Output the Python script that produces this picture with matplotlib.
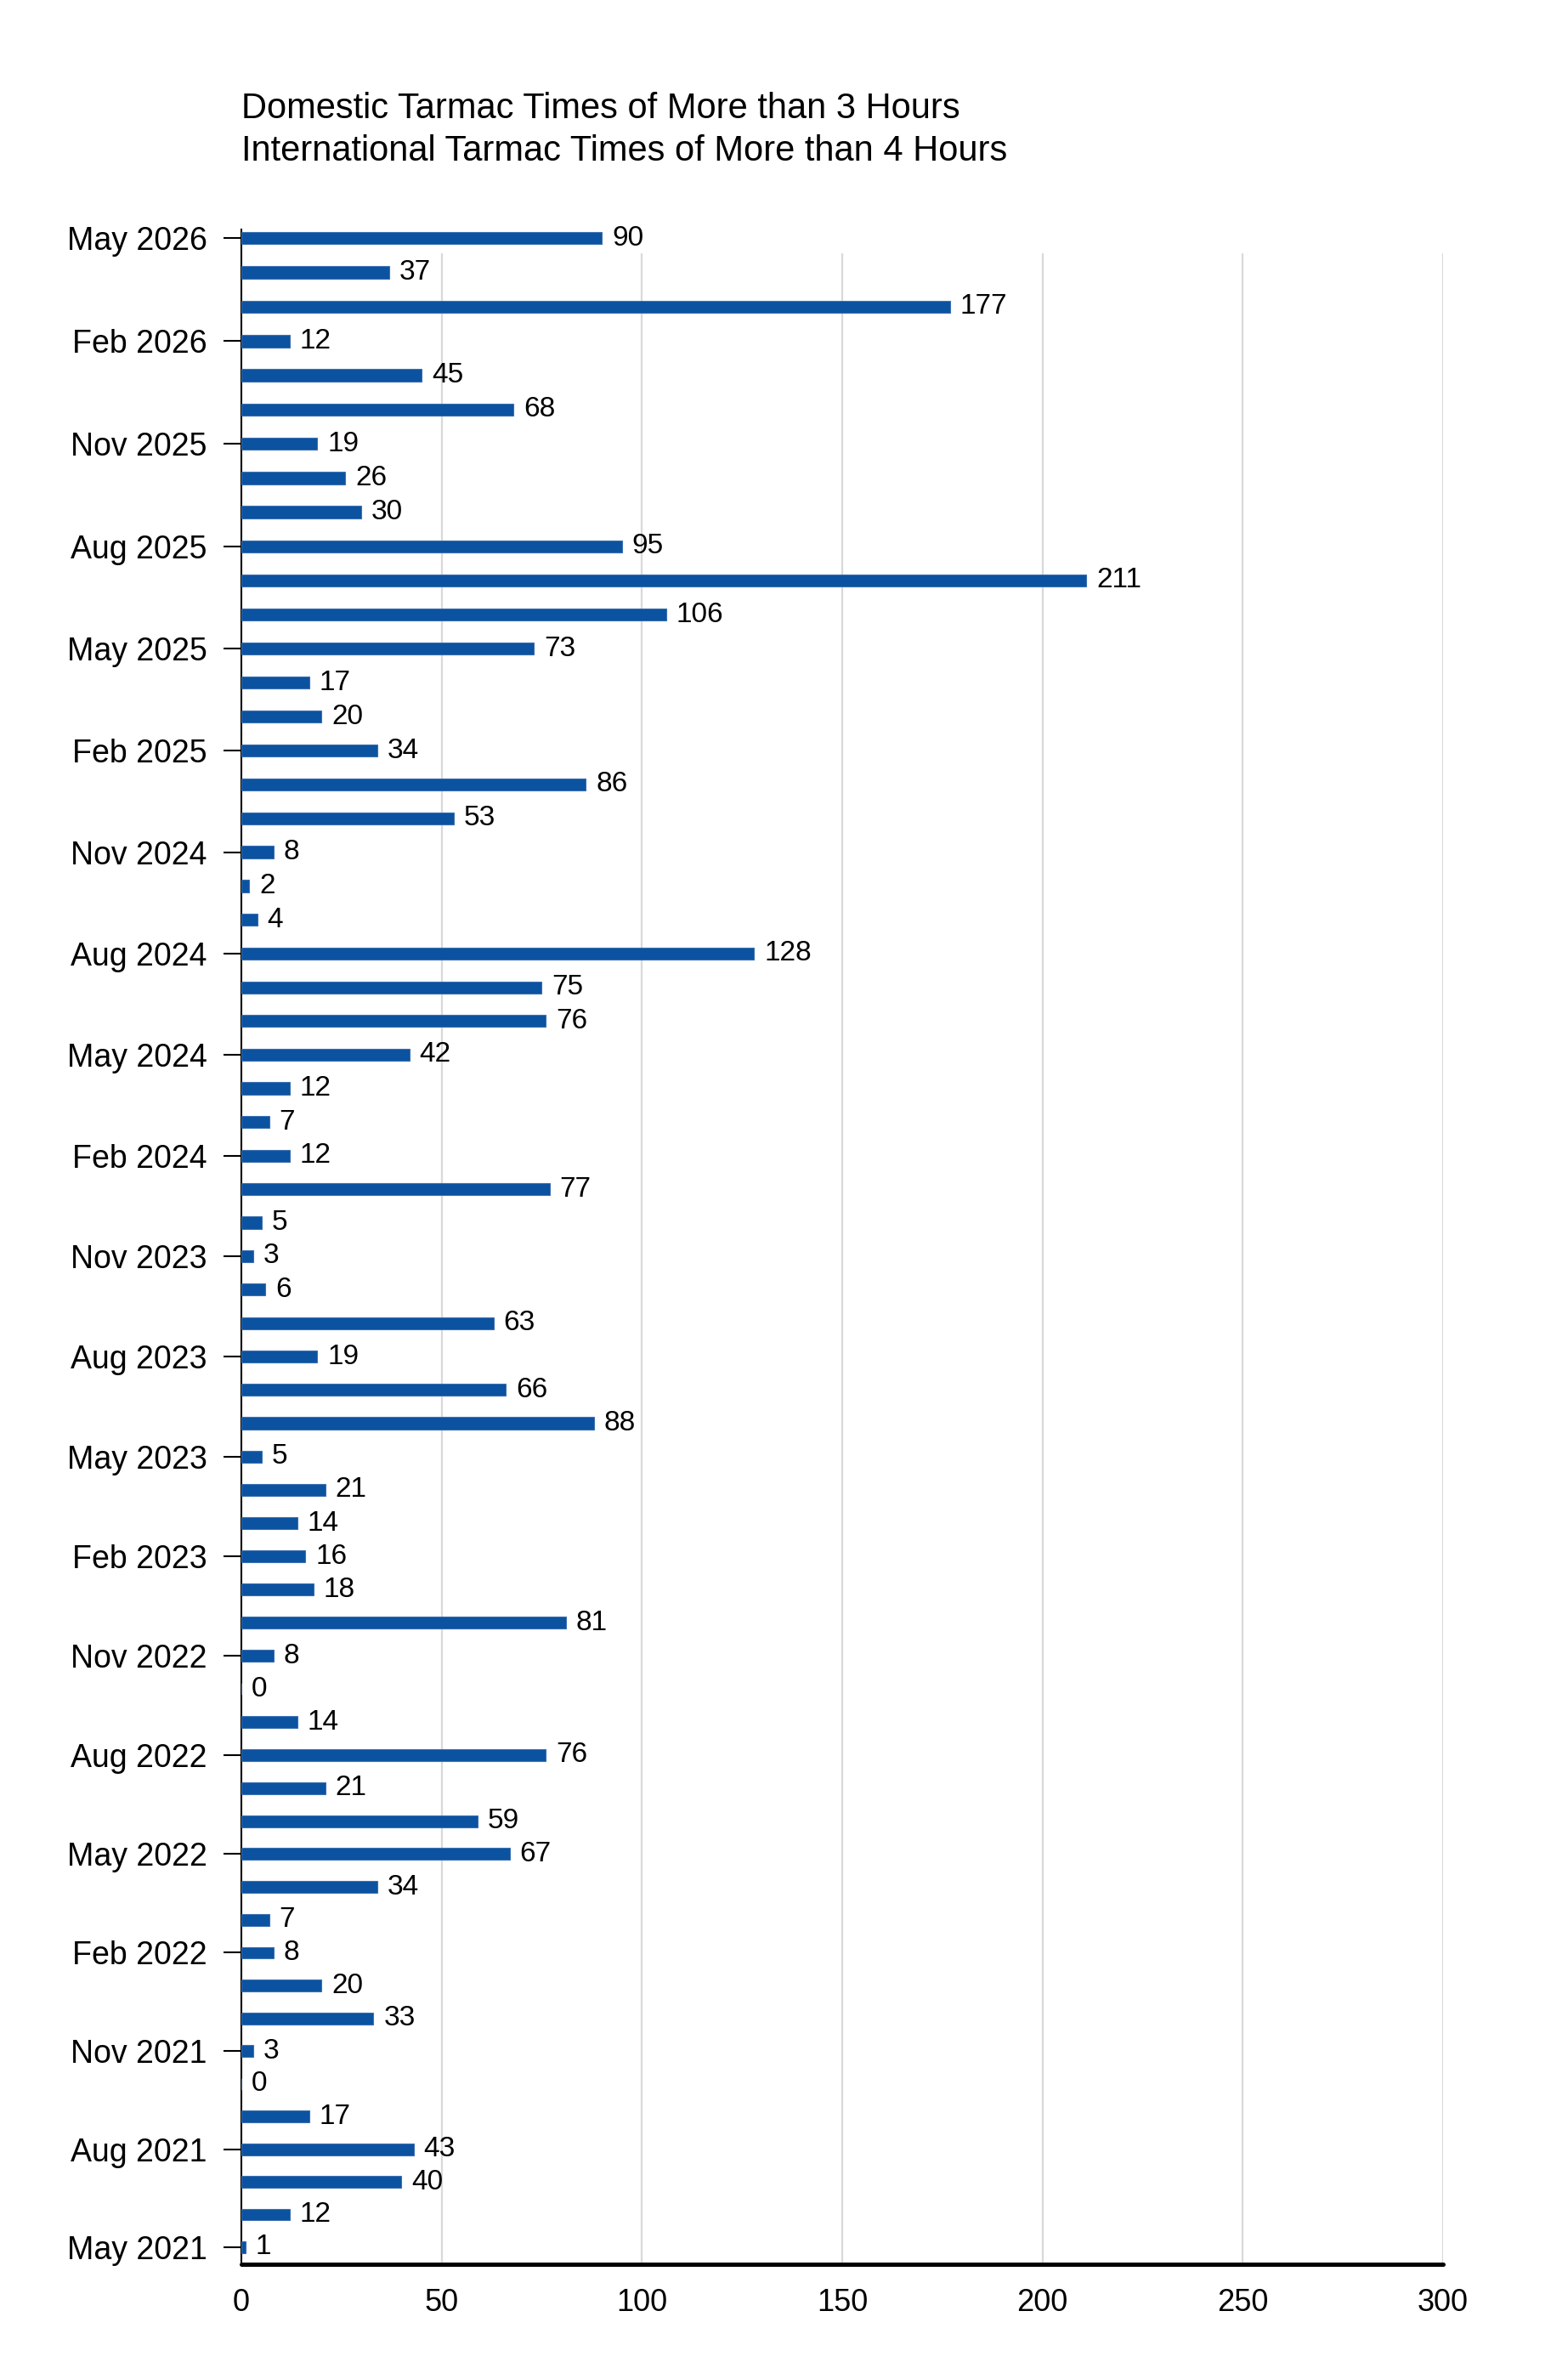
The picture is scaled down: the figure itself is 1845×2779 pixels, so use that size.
import matplotlib.pyplot as plt
import numpy as np

plt.rcParams['font.family'] = ['Liberation Sans', 'DejaVu Sans']

# months from May 2021 (first) to May 2026 (last)
months = ['May 2021', 'Jun 2021', 'Jul 2021', 'Aug 2021', 'Sep 2021', 'Oct 2021',
          'Nov 2021', 'Dec 2021', 'Jan 2022', 'Feb 2022', 'Mar 2022', 'Apr 2022',
          'May 2022', 'Jun 2022', 'Jul 2022', 'Aug 2022', 'Sep 2022', 'Oct 2022',
          'Nov 2022', 'Dec 2022', 'Jan 2023', 'Feb 2023', 'Mar 2023', 'Apr 2023',
          'May 2023', 'Jun 2023', 'Jul 2023', 'Aug 2023', 'Sep 2023', 'Oct 2023',
          'Nov 2023', 'Dec 2023', 'Jan 2024', 'Feb 2024', 'Mar 2024', 'Apr 2024',
          'May 2024', 'Jun 2024', 'Jul 2024', 'Aug 2024', 'Sep 2024', 'Oct 2024',
          'Nov 2024', 'Dec 2024', 'Jan 2025', 'Feb 2025', 'Mar 2025', 'Apr 2025',
          'May 2025', 'Jun 2025', 'Jul 2025', 'Aug 2025', 'Sep 2025', 'Oct 2025',
          'Nov 2025', 'Dec 2025', 'Jan 2026', 'Feb 2026', 'Mar 2026', 'Apr 2026',
          'May 2026']
delays = [1, 12, 40, 43, 17, 0,
          3, 33, 20, 8, 7, 34,
          67, 59, 21, 76, 14, 0,
          8, 81, 18, 16, 14, 21,
          5, 88, 66, 19, 63, 6,
          3, 5, 77, 12, 7, 12,
          42, 76, 75, 128, 4, 2,
          8, 53, 86, 34, 20, 17,
          73, 106, 211, 95, 30, 26,
          19, 68, 45, 12, 177, 37,
          90]
x_ticks = [0, 50, 100, 150, 200, 250, 300]

title_lines = ['Domestic Tarmac Times of More than 3 Hours',
               'International Tarmac Times of More than 4 Hours']

# the original rows get slightly wider towards the top; mimic with a mild
# quadratic y scale (index -> screen position)
N = len(months) - 1
A, B = 22.833, 0.01
SPAN = A * N - B * N ** 2


def fwd(i):
    k = N - np.asarray(i, dtype=float)
    return SPAN - (A * k - B * k ** 2)


def inv(u):
    g = SPAN - np.asarray(u, dtype=float)
    disc = np.clip(A ** 2 - 4 * B * g, 1e-9, None)
    k = (A - np.sqrt(disc)) / (2 * B)
    return N - k


fig = plt.figure(figsize=(18.45, 27.79), dpi=100)
ax = fig.add_axes([0.1539, 0.0414, 0.7664, 0.8643])
ax.set_yscale('function', functions=(fwd, inv))

pos = np.arange(len(months))
ax.barh(pos, delays, height=0.36, color='#0b52a0', edgecolor='#3b6fb0',
        linewidth=0.8, zorder=3)
for p, v in zip(pos, delays):
    ax.text(v + 2.5, p, str(v), va='center', ha='left', fontsize=24, zorder=4)

y_lo = float(inv(-11.3))
y_hi = float(inv(SPAN + 10.2))
ax.set_xlim(0, 300)
ax.set_ylim(y_lo, y_hi)
ax.vlines(x_ticks[1:], y_lo, float(inv(SPAN - 10.2)), color='#d9d9d9',
          linewidth=1.6, zorder=1)

ax.set_xticks(x_ticks)
ax.set_xticklabels([str(t) for t in x_ticks])
ax.set_yticks(pos[::3])
ax.set_yticklabels(months[::3])
ax.yaxis.set_minor_locator(plt.NullLocator())
ax.tick_params(axis='x', length=0, pad=20, labelsize=26)
ax.tick_params(axis='y', length=15, width=1.5, pad=14, labelsize=27)

for s in ['top', 'right']:
    ax.spines[s].set_visible(False)
ax.spines['left'].set_bounds(y_lo, float(inv(SPAN + 6)))
ax.spines['left'].set_linewidth(1.5)
ax.spines['bottom'].set_linewidth(3.6)
ax.spines['bottom'].set_capstyle('round')

fig.text(284 / 1845, 1 - 128 / 2779, title_lines[0], fontsize=30, va='center', ha='left')
fig.text(284 / 1845, 1 - 178 / 2779, title_lines[1], fontsize=30, va='center', ha='left')

fig.savefig('out.png', dpi=100)
